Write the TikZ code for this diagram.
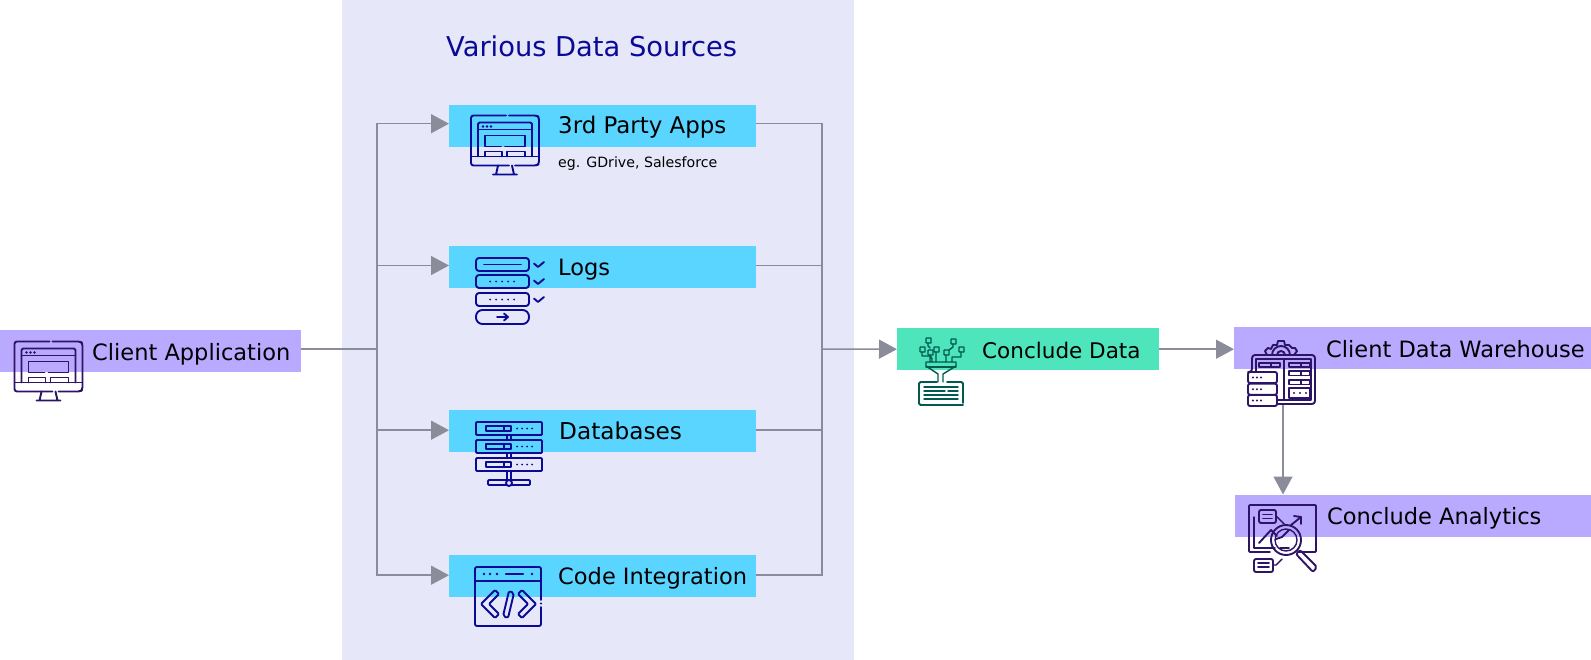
\documentclass[tikz,border=0pt]{standalone}
\usepackage{fontspec}
\setmainfont{DejaVu Sans}
\usetikzlibrary{arrows.meta}
\definecolor{panelc}{HTML}{E6E8F9}
\definecolor{bluebar}{HTML}{5AD5FF}
\definecolor{purplebar}{HTML}{B9A9FF}
\definecolor{greenbar}{HTML}{4FE5BC}
\definecolor{linec}{HTML}{8A8D99}
\definecolor{navy}{HTML}{0A0A96}
\definecolor{deeppurple}{HTML}{2D1466}
\definecolor{deepgreen}{HTML}{005A4E}
\tikzset{
  bar/.style={anchor=north west,inner sep=0pt,minimum height=42bp,fill=#1},
  lbl/.style={anchor=base west,inner sep=0pt,text=black,font=\fontsize{22.6}{25}\selectfont},
  sublbl/.style={anchor=base west,inner sep=0pt,text=black,font=\fontsize{14.2}{16}\selectfont},
  conn/.style={draw=linec,line width=1.5bp},
  arr/.style={conn,-{Triangle[length=18bp,width=19bp]}},
  ic/.style={line width=1.9bp,line cap=round,line join=round},
  thin ic/.style={line width=1.4bp,line cap=round,line join=round},
  monitoricon/.pic={
    \draw[ic,rounded corners=2.5bp] (38,0)--(66,0)--(68,2)--(68,48)--(66,50)--(44,50);
    \draw[ic,rounded corners=2.5bp] (35,0)--(0,0)--(0,50)--(38,50);
    \draw[ic] (0,41)--(68,41);
    \draw[ic,rounded corners=1.5bp] (7,41)--(7,7)--(61,7)--(61,41);
    \draw[ic] (7,14)--(61,14);
    \fill (12,11) circle(1.3bp) (16,11) circle(1.3bp) (20,11) circle(1.3bp);
    \draw[ic] (30,31)--(14,31)--(14,20)--(54,20)--(54,31)--(34,31);
    \draw[ic] (14,41)--(14,36)--(31,36)--(31,41) (36,41)--(36,36)--(54,36)--(54,41);
    \draw[ic] (27,50)--(25,59) (41,50)--(43,59) (22,59)--(46,59);
  },
  logsicon/.pic={
    \draw[ic,rounded corners=3bp] (0,0) rectangle (53,13);
    \draw[ic] (8,6.5)--(45,6.5);
    \draw[ic,rounded corners=3bp] (0,17) rectangle (53,30);
    \draw[ic,rounded corners=3bp] (0,35) rectangle (53,48);
    \foreach \yy in {23.5,41.5}\foreach \xx in {14,20,26,32,38}\fill (\xx,\yy) circle(1bp);
    \draw[ic,rounded corners=6.5bp] (0,52) rectangle (53,66);
    \draw[ic] (21,59)--(32,59) (28,55.5)--(32,59)--(28,62.5);
    \foreach \yy in {6.5,23.5,41.5}\draw[ic] (58,\yy-1)--(62,\yy+2.5)--(68,\yy-2.5);
  },
  dbicon/.pic={
    \foreach \yy in {0,18,36}{
      \draw[ic,rounded corners=1bp] (0,\yy) rectangle (66,\yy+13);
      \draw[ic] (10,\yy+4)--(35,\yy+4)--(35,\yy+9)--(10,\yy+9)--cycle (28,\yy+4)--(28,\yy+9);
      \foreach \xx in {41,46,51,56}\fill (\xx,\yy+6.5) circle(1bp);
    }
    \draw[ic] (31,13)--(31,18) (35,13)--(35,18) (31,31)--(31,36) (35,31)--(35,36) (31,49)--(31,58) (35,49)--(35,58);
    \draw[ic,rounded corners=1bp] (12,58) rectangle (54,63);
    \draw[ic,fill=panelc] (33,61) circle(3bp);
  },
  codeicon/.pic={
    \draw[ic,rounded corners=2bp] (66,33)--(66,0)--(0,0)--(0,59)--(66,59)--(66,40);
    \fill (66,36.5) circle(1.1bp);
    \draw[ic] (0,14)--(66,14);
    \fill (9,7) circle(1.3bp) (15,7) circle(1.3bp) (22,7) circle(1.3bp) (57,7) circle(1.3bp);
    \draw[line width=2.4bp,line cap=round] (31,7)--(48,7);
    \draw[ic,rounded corners=1bp] (6,37)--(20,23)--(24,27)--(14,37)--(24,47)--(20,51)--cycle;
    \draw[ic,rounded corners=1bp] (61,37)--(47,23)--(43,27)--(53,37)--(43,47)--(47,51)--cycle;
    \draw[ic,rounded corners=2bp] (34,24)--(39,26)--(33,51)--(28,49)--cycle;
  },
  dataicon/.pic={
    \draw[ic,rounded corners=1.5bp] (28,45)--(44,45)--(44,66) (44,68)--(0,68)--(0,45)--(18,45);
    \draw[thin ic] (19,45)--(19,37)--(7,29)--(7,25)--(37,25)--(37,29)--(24,37)--(24,45);
    \draw[thin ic] (7,30)--(37,30);
    \foreach \yy/\aa/\bb in {50/5/39,54/5/26,58/5/39,62/5/39}\draw[thin ic] (\aa,\yy)--(\bb,\yy);
    \draw[thin ic] (29,54)--(39,54);
    \foreach \xx/\yy in {7/1,32/2,1/10,15/10,25/13,40/10,9/13}\draw[thin ic,rounded corners=.5bp] (\xx,\yy) rectangle +(5,5);
    \draw[thin ic] (9,6)--(9,9)--(11,11) (3,15)--(3,19)--(11,19)--(11,25)
      (11,18)--(13,22)--(13,25) (17,15)--(17,25) (27,18)--(27,25) (42,15)--(42,20)--(33,20)--(33,25) (34,7)--(34,10)--(30,13);
  },
  warehouseicon/.pic={
    \draw[ic] (20,17)--(18,13)--(21,10)--(24,11)--(26,7)--(30,7)--(31,3)--(37,3)--(38,7)--(42,7)--(45,10)--(48,10)--(50,13)--(47,17);
    \draw[ic] (25,17) arc(180:0:9bp) (30,17) arc(180:0:4bp);
    \draw[ic,rounded corners=3bp] (1,34)--(5,34)--(5,17)--(68,17)--(68,66)--(31,66);
    \draw[thin ic] (9,34)--(9,21)--(64,21)--(64,62)--(31,62);
    \draw[ic] (37,21)--(37,62);
    \foreach \xx in {12,42}\draw[thin ic] (\xx,25)--(\xx+21,25)--(\xx+21,29)--(\xx,29)--cycle (\xx+12,25)--(\xx+12,29);
    \foreach \yy in {33,42}\draw[thin ic] (42,\yy)--(63,\yy)--(63,\yy+4.5)--(42,\yy+4.5)--cycle (54,\yy)--(54,\yy+4.5);
    \draw[thin ic] (42,50) rectangle (63,60);
    \foreach \xx in {47,53,59}\fill (\xx,55) circle(1.1bp);
    \foreach \yy in {34,45.7,57}{
      \draw[ic,rounded corners=2bp,fill=white] (1,\yy) rectangle (30,\yy+11);
      \foreach \xx in {6,10,14}\fill (\xx,\yy+5.5) circle(1.1bp);
    }
  },
  analyticsicon/.pic={
    \draw[ic,rounded corners=1bp] (50,47)--(67,47)--(67,0)--(0,0)--(0,47)--(21,47);
    \draw[thin ic] (5,12)--(5,43)--(26,43);
    \draw[ic,rounded corners=2bp] (10,5) rectangle (27,18);
    \draw[ic] (14,9.5)--(23,9.5) (14,13.5)--(23,13.5);
    \draw[thin ic] (27,11)--(36,20);
    \draw[ic] (10,38)--(22,25)--(28,31);
    \draw[ic] (42,20)--(52,12) (45,11)--(52,12)--(52,19);
    \draw[ic] (37,35) circle(15bp);
    \draw[thin ic] (37,35) circle(11bp);
    \draw[ic] (27,34)--(33,32)--(40,25) (31,43)--(40,43);
    \draw[ic,rounded corners=2bp] (47,49)--(51,45)--(68,62)--(64,67)--cycle;
    \draw[ic,rounded corners=2bp] (5,54) rectangle (24,67);
    \draw[ic] (9,58)--(20,58) (9,62)--(20,62);
    \draw[thin ic] (24,60)--(27,60)--(33,54);
  },
}
\begin{document}
\begin{tikzpicture}[x=1bp,y=-1bp]
\useasboundingbox (0,0) rectangle (1591,660);
\node[anchor=north west,inner sep=0pt,minimum width=512bp,minimum height=660bp,fill=panelc] (panel) at (342,0) {};
\node[bar=purplebar,minimum width=301bp] (client) at (0,330) {};
\node[bar=bluebar,minimum width=307bp] (apps) at (449,104.5) {};
\node[bar=bluebar,minimum width=307bp] (logs) at (449,245.3) {};
\node[bar=bluebar,minimum width=307bp] (dbs) at (449,410) {};
\node[bar=bluebar,minimum width=307bp] (code) at (449,555) {};
\node[bar=greenbar,minimum width=262bp] (data) at (897,328) {};
\node[bar=purplebar,minimum width=358bp] (wh) at (1234,327) {};
\node[bar=purplebar,minimum width=357bp] (an) at (1235,494.5) {};
\pic[color=deeppurple] at (14.5,341.5) {monitoricon};
\pic[color=navy] at (471,115.5) {monitoricon};
\pic[color=navy] at (476,258) {logsicon};
\pic[color=navy] at (476,422) {dbicon};
\pic[color=navy] at (475,567) {codeicon};
\pic[color=deepgreen] at (919,337) {dataicon};
\pic[color=deeppurple] at (1247,338) {warehouseicon};
\pic[color=deeppurple] at (1249,505) {analyticsicon};
\node[anchor=base west,inner sep=0pt,text=navy,font=\fontsize{27.4}{30}\selectfont] (title) at (446,57) {Various Data Sources};
\node[lbl] (tclient) at (92,360) {Client Application};
\node[lbl,font=\fontsize{23}{25}\selectfont] (tapps) at (558,134) {3rd Party Apps};
\node[sublbl] (tsub) at (558,167) {eg. GDrive, Salesforce};
\node[lbl] (tlogs) at (558,275) {Logs};
\node[lbl,font=\fontsize{23.3}{25}\selectfont] (tdbs) at (559,439) {Databases};
\node[lbl] (tcode) at (558,584) {Code Integration};
\node[lbl,font=\fontsize{21.6}{25}\selectfont] (tdata) at (982,358) {Conclude Data};
\node[lbl] (twh) at (1326,357) {Client Data Warehouse};
\node[lbl] (tan) at (1327,524) {Conclude Analytics};
\coordinate (jl) at (377,349);
\coordinate (jr) at (822,349);
\coordinate (whout) at (1283,405);
\draw[conn] (client.east |- jl) -- (jl);
\draw[arr] (jl) |- ([yshift=2bp]apps.west);
\draw[arr] (jl) |- ([yshift=1bp]logs.west);
\draw[arr] (jl) |- ([yshift=1bp]dbs.west);
\draw[arr] (jl) |- ([yshift=1bp]code.west);
\draw[conn] ([yshift=2bp]apps.east) -| (jr);
\draw[conn] ([yshift=1bp]logs.east) -| (jr);
\draw[conn] ([yshift=1bp]dbs.east) -| (jr);
\draw[conn] ([yshift=1bp]code.east) -| (jr);
\draw[arr] (jr) -- (data.west);
\draw[arr] (data.east) -- (wh.west |- data.east);
\draw[arr] (whout) -- (whout |- an.north);
\end{tikzpicture}
\end{document}
